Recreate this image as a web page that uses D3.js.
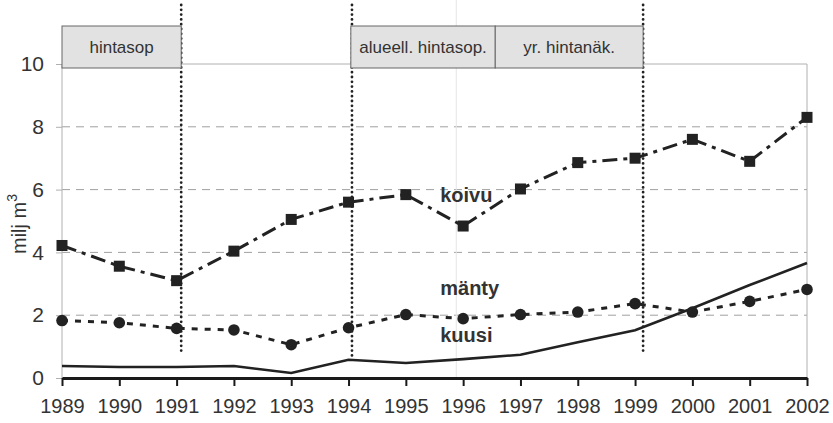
<!DOCTYPE html>
<html>
<head>
<meta charset="utf-8">
<script src="https://cdn.jsdelivr.net/npm/d3@7"></script>
<style>
  body { margin: 0; background: #fff; }
  svg { display: block; font-family: "Liberation Sans", Arial, sans-serif; }
</style>
</head>
<body>
<script>
// data
const years = [1989, 1990, 1991, 1992, 1993, 1994, 1995, 1996, 1997, 1998, 1999, 2000, 2001, 2002];
const koivu = [4.22, 3.56, 3.1, 4.04, 5.05, 5.6, 5.84, 4.84, 6.02, 6.86, 7.0, 7.6, 6.9, 8.3];
const manty = [1.83, 1.76, 1.58, 1.53, 1.06, 1.6, 2.02, 1.89, 2.02, 2.1, 2.37, 2.1, 2.44, 2.82];
const kuusi = [0.38, 0.35, 0.35, 0.38, 0.16, 0.58, 0.48, 0.6, 0.74, 1.14, 1.52, 2.22, 2.96, 3.66];
const yTicks = [0, 2, 4, 6, 8, 10];

// periods shown as boxes above the plot
const periods = [
  {label: "hintasop", from: 1989, to: 1991.08},
  {label: "alueell. hintasop.", from: 1994.04, to: 1996.56},
  {label: "yr. hintanäk.", from: 1996.56, to: 1999.14}
];
// dotted markers: year and value where they stop
const markers = [
  {year: 1991.08, bottom: 0.83},
  {year: 1994.06, bottom: 0.6},
  {year: 1999.14, bottom: 0.83}
];

const width = 833, height = 423;
const svg = d3.select("body").append("svg")
  .attr("width", width).attr("height", height);

const x = d3.scaleLinear().domain([1989, 2002]).range([62, 807]);
const y = d3.scaleLinear().domain([0, 10]).range([378, 64]);

// grid
svg.append("g").selectAll("line")
  .data([2, 4, 6, 8])
  .join("line")
  .attr("x1", x(1989)).attr("x2", x(2002))
  .attr("y1", d => y(d)).attr("y2", d => y(d))
  .attr("stroke", "#a0a0a0").attr("stroke-width", 1)
  .attr("stroke-dasharray", "8,6");

// frame (top + right + left, light)
svg.append("path")
  .attr("d", `M${x(1989)},${y(0)}V${y(10)}H${x(2002)}V${y(0)}`)
  .attr("fill", "none").attr("stroke", "#b0b0b0").attr("stroke-width", 1);

// faint stray vertical line
svg.append("line")
  .attr("x1", x(1995.88)).attr("x2", x(1995.88))
  .attr("y1", 0).attr("y2", y(0))
  .attr("stroke", "#e6e6e6").attr("stroke-width", 1);

// y axis
const yAxis = d3.axisLeft(y).tickValues(yTicks).tickSize(6).tickPadding(12);
const gy = svg.append("g").attr("transform", `translate(${x(1989)},0)`).call(yAxis);
gy.select(".domain").remove();
gy.selectAll("line").attr("stroke", "#b0b0b0");
gy.selectAll("text").attr("font-size", 21).attr("fill", "#333")
  .attr("font-family", "Liberation Sans, Arial, sans-serif");

// x axis
const xAxis = d3.axisBottom(x).tickValues(years).tickFormat(d3.format("d"))
  .tickSize(8).tickSizeOuter(0).tickPadding(13);
const gx = svg.append("g").attr("transform", `translate(0,${y(0)})`).call(xAxis);
gx.select(".domain").attr("stroke", "#1a1a1a").attr("stroke-width", 3);
gx.selectAll("line").attr("stroke", "#1a1a1a").attr("stroke-width", 2);
gx.selectAll("text").attr("font-size", 20).attr("fill", "#333")
  .attr("font-family", "Liberation Sans, Arial, sans-serif");

// y title
svg.append("text")
  .attr("transform", "translate(26,224) rotate(-90)")
  .attr("text-anchor", "middle")
  .attr("font-size", 20).attr("fill", "#333")
  .text("milj m")
  .append("tspan").attr("dy", -9).attr("font-size", 14).text("3");

// dotted vertical markers
svg.append("g").selectAll("line")
  .data(markers)
  .join("line")
  .attr("x1", d => x(d.year)).attr("x2", d => x(d.year))
  .attr("y1", 5).attr("y2", d => y(d.bottom))
  .attr("stroke", "#222").attr("stroke-width", 2.8)
  .attr("stroke-linecap", "round")
  .attr("stroke-dasharray", "0,4.8");

// period boxes
const pb = svg.append("g").selectAll("g")
  .data(periods)
  .join("g");
pb.append("rect")
  .attr("x", d => x(d.from)).attr("y", 26)
  .attr("width", d => x(d.to) - x(d.from)).attr("height", 42)
  .attr("fill", "#e2e2e2").attr("stroke", "#666").attr("stroke-width", 1);
pb.append("text")
  .attr("x", d => (x(d.from) + x(d.to)) / 2).attr("y", 53)
  .attr("text-anchor", "middle")
  .attr("font-size", 17).attr("fill", "#333")
  .text(d => d.label);

// series
const line = d3.line().x((d, i) => x(years[i])).y(d => y(d));

svg.append("path").datum(kuusi)
  .attr("d", line).attr("fill", "none")
  .attr("stroke", "#222").attr("stroke-width", 2.6);

svg.append("path").datum(manty)
  .attr("d", line).attr("fill", "none")
  .attr("stroke", "#222").attr("stroke-width", 3)
  .attr("stroke-dasharray", "6,7");
svg.append("g").selectAll("circle")
  .data(manty)
  .join("circle")
  .attr("cx", (d, i) => x(years[i])).attr("cy", d => y(d))
  .attr("r", 5.8).attr("fill", "#222");

svg.append("path").datum(koivu)
  .attr("d", line).attr("fill", "none")
  .attr("stroke", "#222").attr("stroke-width", 3)
  .attr("stroke-dasharray", "15,6,4,6");
svg.append("g").selectAll("rect")
  .data(koivu)
  .join("rect")
  .attr("x", (d, i) => x(years[i]) - 5.5).attr("y", d => y(d) - 5.5)
  .attr("width", 11).attr("height", 11).attr("fill", "#222");

// series labels
const labels = [
  {t: "koivu", xv: 1995.6, yv: 5.6},
  {t: "mänty", xv: 1995.6, yv: 2.65},
  {t: "kuusi", xv: 1995.6, yv: 1.15}
];
svg.append("g").selectAll("text")
  .data(labels)
  .join("text")
  .attr("x", d => x(d.xv)).attr("y", d => y(d.yv))
  .attr("font-size", 20).attr("font-weight", "bold").attr("fill", "#333")
  .text(d => d.t);
</script>
</body>
</html>
